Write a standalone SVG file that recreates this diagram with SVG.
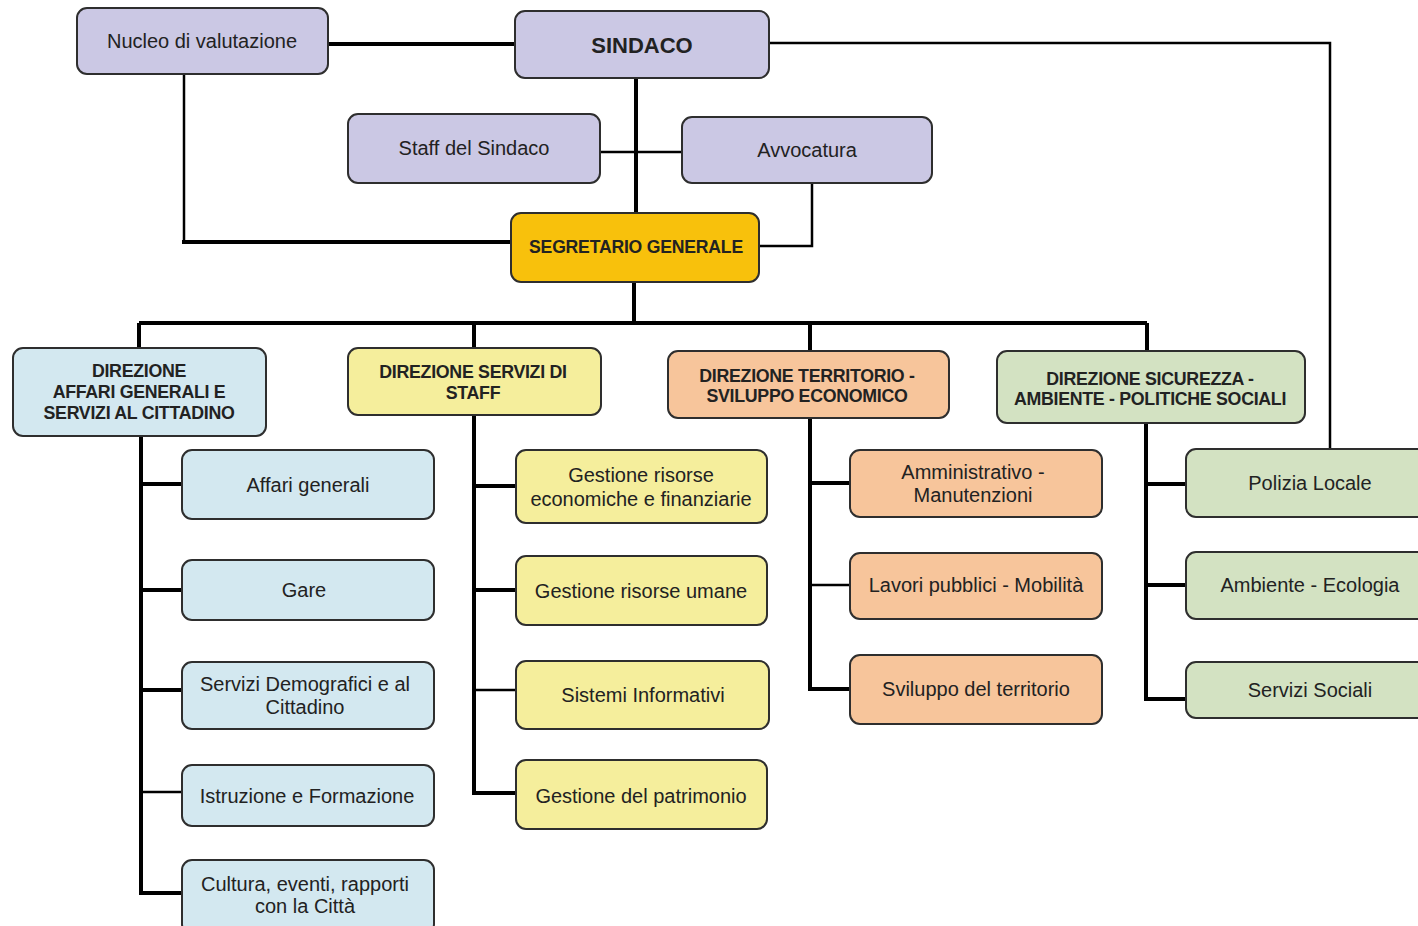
<svg xmlns="http://www.w3.org/2000/svg" width="1418" height="926" viewBox="0 0 1418 926">
<style>
.b{stroke:#2e2e2e;stroke-width:2}
.lav{fill:#cbc8e4}
.gold{fill:#f8c10c}
.blue{fill:#d3e8f0}
.yel{fill:#f5ee9c}
.ora{fill:#f7c59b}
.grn{fill:#d3e2c2}
text{font-family:"Liberation Sans",Arial,sans-serif;fill:#222;text-anchor:middle}
.t{font-size:20px}
.h{font-size:17.8px;font-weight:bold;letter-spacing:-0.3px}
.k{stroke:#000;fill:none;stroke-width:4}
.n{stroke:#000;fill:none;stroke-width:2.5}
</style>
<rect width="1418" height="926" fill="#fff"/>
<g id="connectors">
<path class="k" d="M328 44H515"/>
<path class="n" d="M769 43H1330V449"/>
<path class="n" d="M184 74V242"/>
<path class="k" d="M182 242H511"/>
<path class="k" d="M636 78V213"/>
<path class="n" d="M600 152H682"/>
<path class="n" d="M812 183V246H759"/>
<path class="k" d="M634 282V323"/>
<path class="k" d="M139 323H1147"/>
<path class="k" d="M139 323V348M474 323V348M810 323V351M1147 323V351"/>
<path class="k" d="M141 436V893H182M141 484H182M141 590H182M141 690H182"/>
<path class="n" d="M141 792H182"/>
<path class="k" d="M474 415V793H516M474 486H516M474 590H516"/>
<path class="n" d="M474 690H516"/>
<path class="k" d="M810 418V689H850M810 483H850"/>
<path class="n" d="M810 585H850"/>
<path class="k" d="M1146 423V699H1186M1146 484H1186M1146 585H1186"/>
</g>
<g id="nucleo"><rect class="b lav" x="77" y="8" width="251" height="66" rx="10"/><text class="t" x="202" y="48">Nucleo di valutazione</text></g>
<g id="sindaco"><rect class="b lav" x="515" y="11" width="254" height="67" rx="10"/><text x="642" y="53" style="font-size:22px;font-weight:bold">SINDACO</text></g>
<g id="staff"><rect class="b lav" x="348" y="114" width="252" height="69" rx="10"/><text class="t" x="474" y="155">Staff del Sindaco</text></g>
<g id="avvocatura"><rect class="b lav" x="682" y="117" width="250" height="66" rx="10"/><text class="t" x="807" y="157">Avvocatura</text></g>
<g id="segretario"><rect class="b gold" x="511" y="213" width="248" height="69" rx="10"/><text x="636" y="253" style="font-size:17.6px;font-weight:bold;letter-spacing:-0.2px">SEGRETARIO GENERALE</text></g>
<g id="dir-affari"><rect class="b blue" x="13" y="348" width="253" height="88" rx="10"/><text class="h" x="139" y="377">DIREZIONE</text><text class="h" x="139" y="398">AFFARI GENERALI E</text><text class="h" x="139" y="419">SERVIZI AL CITTADINO</text></g>
<g id="dir-staff"><rect class="b yel" x="348" y="348" width="253" height="67" rx="10"/><text class="h" x="473" y="378">DIREZIONE SERVIZI DI</text><text class="h" x="473" y="399">STAFF</text></g>
<g id="dir-territorio"><rect class="b ora" x="668" y="351" width="281" height="67" rx="10"/><text class="h" x="807" y="382">DIREZIONE TERRITORIO -</text><text class="h" x="807" y="402">SVILUPPO ECONOMICO</text></g>
<g id="dir-sicurezza"><rect class="b grn" x="997" y="351" width="308" height="72" rx="10"/><text class="h" x="1150" y="385">DIREZIONE SICUREZZA -</text><text class="h" x="1150" y="405">AMBIENTE - POLITICHE SOCIALI</text></g>
<g id="affari-generali"><rect class="b blue" x="182" y="450" width="252" height="69" rx="10"/><text class="t" x="308" y="492">Affari generali</text></g>
<g id="gare"><rect class="b blue" x="182" y="560" width="252" height="60" rx="10"/><text class="t" x="304" y="597">Gare</text></g>
<g id="demografici"><rect class="b blue" x="182" y="662" width="252" height="67" rx="10"/><text class="t" x="305" y="691">Servizi Demografici e al</text><text class="t" x="305" y="714">Cittadino</text></g>
<g id="istruzione"><rect class="b blue" x="182" y="765" width="252" height="61" rx="10"/><text class="t" x="307" y="803">Istruzione e Formazione</text></g>
<g id="cultura"><rect class="b blue" x="182" y="860" width="252" height="74" rx="10"/><text class="t" x="305" y="891">Cultura, eventi, rapporti</text><text class="t" x="305" y="913">con la Città</text></g>
<g id="risorse-economiche"><rect class="b yel" x="516" y="450" width="251" height="73" rx="10"/><text class="t" x="641" y="482">Gestione risorse</text><text class="t" x="641" y="506">economiche e finanziarie</text></g>
<g id="risorse-umane"><rect class="b yel" x="516" y="556" width="251" height="69" rx="10"/><text class="t" x="641" y="598">Gestione risorse umane</text></g>
<g id="sistemi"><rect class="b yel" x="516" y="661" width="253" height="68" rx="10"/><text class="t" x="643" y="702">Sistemi Informativi</text></g>
<g id="patrimonio"><rect class="b yel" x="516" y="760" width="251" height="69" rx="10"/><text class="t" x="641" y="803">Gestione del patrimonio</text></g>
<g id="amministrativo"><rect class="b ora" x="850" y="450" width="252" height="67" rx="10"/><text class="t" x="973" y="479">Amministrativo -</text><text class="t" x="973" y="502">Manutenzioni</text></g>
<g id="lavori"><rect class="b ora" x="850" y="553" width="252" height="66" rx="10"/><text class="t" x="976" y="592">Lavori pubblici - Mobilità</text></g>
<g id="sviluppo"><rect class="b ora" x="850" y="655" width="252" height="69" rx="10"/><text class="t" x="976" y="696">Sviluppo del territorio</text></g>
<g id="polizia"><rect class="b grn" x="1186" y="449" width="250" height="68" rx="10"/><text class="t" x="1310" y="490">Polizia Locale</text></g>
<g id="ambiente"><rect class="b grn" x="1186" y="552" width="250" height="67" rx="10"/><text class="t" x="1310" y="592">Ambiente - Ecologia</text></g>
<g id="sociali"><rect class="b grn" x="1186" y="662" width="250" height="56" rx="10"/><text class="t" x="1310" y="697">Servizi Sociali</text></g>
</svg>
